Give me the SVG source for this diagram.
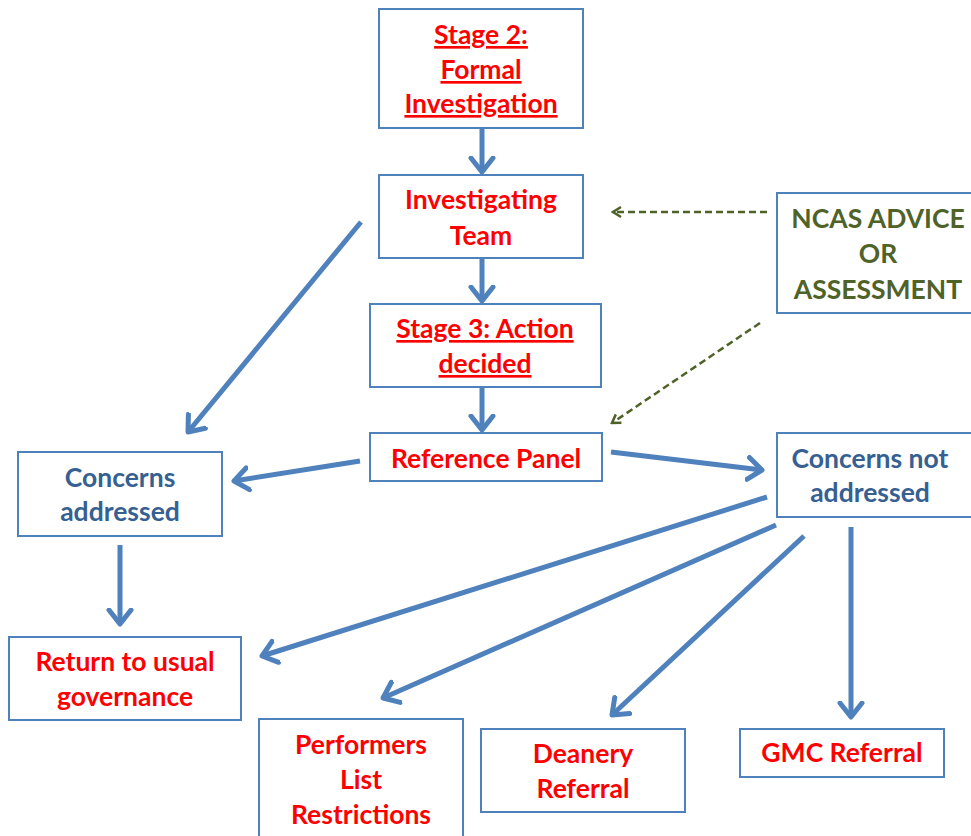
<svg xmlns="http://www.w3.org/2000/svg" width="971" height="836" viewBox="0 0 971 836">
<defs>
<style>
.box{fill:#fff;stroke:#4F81BD;stroke-width:2}
text{font-family:Lato,"Open Sans","Liberation Sans",sans-serif;font-weight:bold;font-size:26.5px;text-anchor:middle}
.r{fill:#FF0000}
.b{fill:#366092}
.g{fill:#4F6228}
.u{text-decoration:underline}
.a{stroke:#4F81BD;stroke-width:5;fill:none;marker-end:url(#ah)}
.d{stroke:#4F6228;stroke-width:2.5;stroke-dasharray:7,4;fill:none;marker-end:url(#dh)}
</style>
<marker id="ah" markerUnits="userSpaceOnUse" viewBox="-16 -14 20 28" refX="0" refY="0" markerWidth="20" markerHeight="28" orient="auto">
<path d="M-14,-11 L0,0 L-14,11" fill="none" stroke="#4F81BD" stroke-width="5" stroke-linecap="round" stroke-linejoin="round"/>
</marker>
<marker id="dh" markerUnits="userSpaceOnUse" viewBox="-10 -8 12 16" refX="0" refY="0" markerWidth="12" markerHeight="16" orient="auto">
<path d="M-8,-5 L0,0 L-8,5" fill="none" stroke="#4F6228" stroke-width="2.5"/>
</marker>
</defs>
<g id="connectors">
<line class="a" x1="482" y1="128" x2="482" y2="172"/>
<line class="a" x1="482" y1="258" x2="482" y2="301"/>
<line class="a" x1="482" y1="387" x2="482" y2="430"/>
<line class="a" x1="361" y1="222" x2="188" y2="432"/>
<line class="a" x1="360" y1="461" x2="234" y2="481"/>
<line class="a" x1="611" y1="452" x2="762" y2="470"/>
<line class="a" x1="120" y1="545" x2="120" y2="624"/>
<line class="a" x1="767" y1="497" x2="262" y2="656"/>
<line class="a" x1="776" y1="525" x2="383" y2="698"/>
<line class="a" x1="804" y1="536" x2="612" y2="715"/>
<line class="a" x1="851" y1="527" x2="851" y2="717"/>
<line class="d" x1="767" y1="212" x2="613" y2="212"/>
<line class="d" x1="760" y1="323" x2="612" y2="423"/>
</g>
<g id="stage2"><rect class="box" x="379" y="9" width="204" height="119"/>
<text class="r u" x="481" y="44">Stage 2:</text><text class="r u" x="481" y="79">Formal</text><text class="r u" x="481" y="113">Investigation</text></g>
<g id="investigating-team"><rect class="box" x="379" y="175" width="204" height="83"/>
<text class="r" x="481" y="209">Investigating</text><text class="r" x="481" y="245">Team</text></g>
<g id="stage3"><rect class="box" x="370" y="304" width="231" height="83"/>
<text class="r u" x="485" y="338">Stage 3: Action</text><text class="r u" x="485" y="373">decided</text></g>
<g id="reference-panel"><rect class="box" x="370" y="433" width="232" height="48"/>
<text class="r" x="486" y="468">Reference Panel</text></g>
<g id="ncas"><rect class="box" x="777" y="193" width="196" height="120"/>
<text class="g" x="878" y="228">NCAS ADVICE</text><text class="g" x="878" y="263">OR</text><text class="g" x="878" y="299">ASSESSMENT</text></g>
<g id="concerns-addressed"><rect class="box" x="18" y="452" width="204" height="84"/>
<text class="b" x="120" y="487">Concerns</text><text class="b" x="120" y="521">addressed</text></g>
<g id="concerns-not-addressed"><rect class="box" x="777" y="433" width="196" height="84"/>
<text class="b" x="870" y="468">Concerns not</text><text class="b" x="870" y="502">addressed</text></g>
<g id="return"><rect class="box" x="9" y="637" width="232" height="83"/>
<text class="r" x="125" y="671">Return to usual</text><text class="r" x="125" y="706">governance</text></g>
<g id="performers"><rect class="box" x="259" y="719" width="204" height="130"/>
<text class="r" x="361" y="754">Performers</text><text class="r" x="361" y="789">List</text><text class="r" x="361" y="824">Restrictions</text></g>
<g id="deanery"><rect class="box" x="481" y="729" width="204" height="83"/>
<text class="r" x="583" y="763">Deanery</text><text class="r" x="583" y="798">Referral</text></g>
<g id="gmc"><rect class="box" x="740" y="729" width="204" height="48"/>
<text class="r" x="842" y="762">GMC Referral</text></g>
</svg>
